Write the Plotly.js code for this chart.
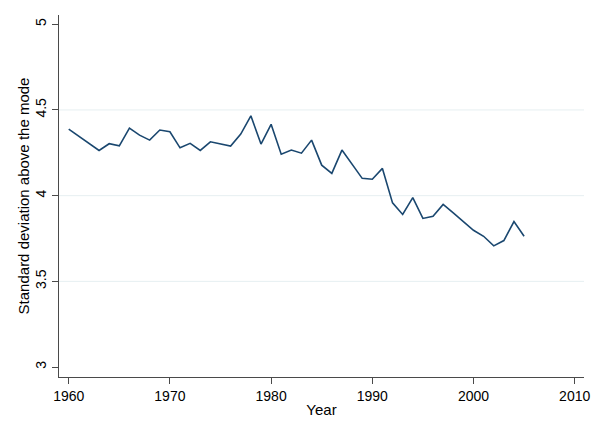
<!DOCTYPE html>
<html>
<head>
<meta charset="utf-8">
<script src="https://cdn.plot.ly/plotly-3.0.1.min.js"></script>
<style>
  body { margin: 0; background: #fff; }
  #myDiv { width: 600px; height: 436px; }
</style>
</head>
<body>
<div id="myDiv"></div>
<script>
// years with a value (1961-62 not drawn as separate points in the figure)
var years = [1960, 1963, 1964, 1965, 1966, 1967, 1968, 1969, 1970,
             1971, 1972, 1973, 1974, 1975, 1976, 1977, 1978, 1979, 1980,
             1981, 1982, 1983, 1984, 1985, 1986, 1987, 1988, 1989, 1990,
             1991, 1992, 1993, 1994, 1995, 1996, 1997, 1998, 1999, 2000,
             2001, 2002, 2003, 2004, 2005];
var sdAboveMode = [4.388, 4.264, 4.303, 4.291, 4.394, 4.353, 4.324, 4.383, 4.373,
                   4.279, 4.305, 4.264, 4.314, 4.301, 4.289, 4.359, 4.466, 4.301, 4.416,
                   4.242, 4.266, 4.248, 4.324, 4.178, 4.130, 4.266, 4.184, 4.101, 4.096,
                   4.159, 3.958, 3.890, 3.989, 3.867, 3.880, 3.949, 3.900, 3.847, 3.798,
                   3.763, 3.707, 3.738, 3.849, 3.763];

var xTicks = [1960, 1970, 1980, 1990, 2000, 2010];
var yTicks = [3, 3.5, 4, 4.5, 5];
var yTickText = ['3', '3.5', '4', '4.5', '5'];

var trace1 = {
  x: years,
  y: sdAboveMode,
  mode: 'lines',
  type: 'scatter',
  line: {color: '#1a476f', width: 1.6},
  hoverinfo: 'skip'
};

var tickFont = {family: '"Liberation Sans", Arial, sans-serif', size: 14, color: '#000'};
var titleFont = {family: '"Liberation Sans", Arial, sans-serif', size: 15, color: '#000'};

var layout = {
  width: 600,
  height: 436,
  margin: {l: 59, r: 16, t: 15, b: 59},
  paper_bgcolor: '#fff',
  plot_bgcolor: '#fff',
  showlegend: false,
  font: tickFont,
  xaxis: {
    range: [1959.04, 2010.92],
    tickvals: xTicks,
    ticktext: xTicks.map(String),
    tickfont: tickFont,
    ticks: 'outside',
    ticklen: 6,
    tickwidth: 1,
    tickcolor: '#4a4a4a',
    showline: true,
    linecolor: '#4a4a4a',
    linewidth: 1,
    showgrid: false,
    zeroline: false,
    title: {text: 'Year', font: titleFont, standoff: 1}
  },
  yaxis: {
    range: [2.942, 5.054],
    tickvals: yTicks,
    ticktext: yTickText,
    tickfont: tickFont,
    tickangle: -90,
    ticks: 'outside',
    ticklen: 6,
    tickwidth: 1,
    tickcolor: '#4a4a4a',
    showline: true,
    linecolor: '#4a4a4a',
    linewidth: 1,
    showgrid: false,
    zeroline: false,
    title: {text: 'Standard deviation above the mode', font: titleFont, standoff: 0}
  },
  shapes: [3.5, 4, 4.5].map(function (v) {
    return {type: 'line', xref: 'paper', x0: 0, x1: 1, yref: 'y', y0: v, y1: v,
            line: {color: '#e6eff1', width: 1}, layer: 'below'};
  })
};

Plotly.newPlot('myDiv', [trace1], layout, {displayModeBar: false, staticPlot: true});
</script>
</body>
</html>
